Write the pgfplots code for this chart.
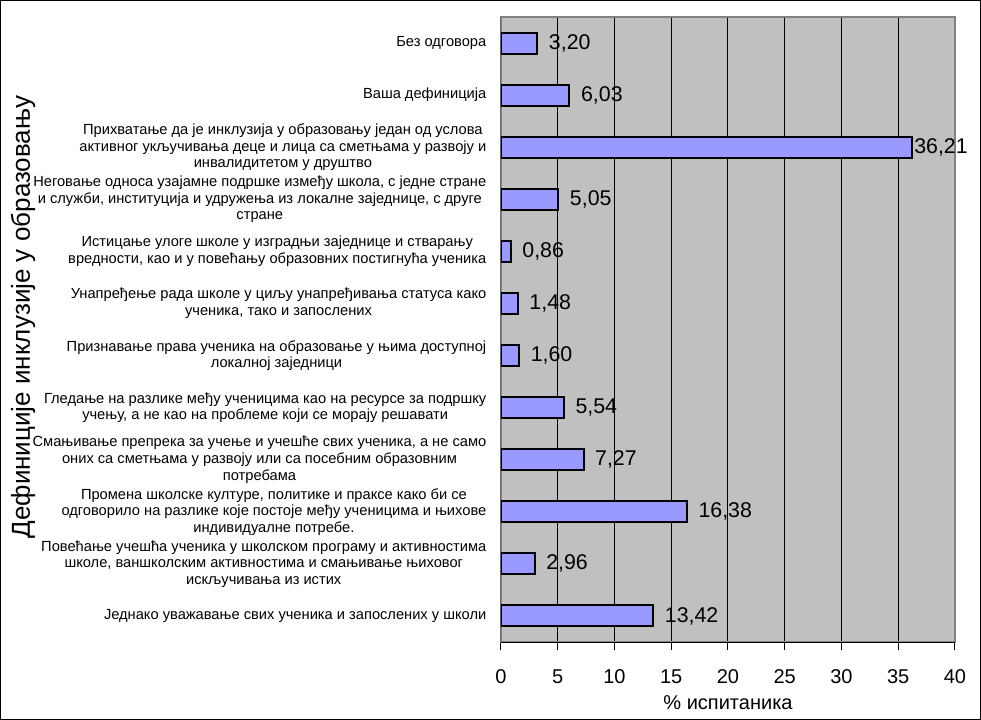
\documentclass[border=0pt]{standalone}
\usepackage{pgfplots}
\pgfplotsset{compat=1.18}
\usepackage{fontspec}
\setmainfont{Liberation Sans}
\definecolor{barfill}{HTML}{9999FF}
\definecolor{plotbg}{HTML}{C0C0C0}
\definecolor{plotedge}{HTML}{808080}
\begin{document}
\begin{tikzpicture}
% whole picture: 981x720 px, 1 px = 0.75 pt, plot area 454x625 px
\path[use as bounding box] (-375.75pt,-58.5pt) rectangle (360pt,481.5pt);
\draw[black, line width=1.1pt] (-375.2pt,-57.95pt) rectangle (359.45pt,480.95pt);
\begin{axis}[
    scale only axis,
    width=340.5pt,
    height=468.75pt,
    xbar,
    bar width=15.75pt,
    xmin=0, xmax=40,
    ymin=0.5, ymax=12.5,
    enlargelimits=false,
    y dir=reverse,
    xtick={0,5,...,40},
    ytick={1,...,12},
    yticklabels={
        {Без одговора},
        {Ваша дефиниција},
        {Прихватање да је инклузија у образовању један од услова\\активног укључивања деце и лица са сметњама у развоју и\\инвалидитетом у друштво},
        {Неговање односа узајамне подршке између школа, с једне стране\\и служби, институција и удружења из локалне заједнице, с друге\\стране},
        {Истицање улоге школе у изградњи заједнице и стварању\\вредности, као и у повећању образовних постигнућа ученика},
        {Унапређење рада школе у циљу унапређивања статуса како\\ученика, тако и запослених},
        {Признавање права ученика на образовање у њима доступној\\локалној заједници},
        {Гледање на разлике међу ученицима као на ресурсе за подршку\\учењу, а не као на проблеме који се морају решавати},
        {Смањивање препрека за учење и учешће свих ученика, а не само\\оних са сметњама у развоју или са посебним образовним\\потребама},
        {Промена школске културе, политике и праксе како би се\\одговорило на разлике које постоје међу ученицима и њихове\\индивидуалне потребе.},
        {Повећање учешћа ученика у школском програму и активностима\\школе, ваншколским активностима и смањивање њиховог\\искључивања из истих},
        {Једнако уважавање свих ученика и запослених у школи}
    },
    yticklabel style={align=center, font=\fontsize{11}{12.4}\selectfont, xshift=-1.5pt},
    ytick style={draw=none},
    xticklabel style={font=\fontsize{15}{18}\selectfont, yshift=-11pt},
    /pgf/number format/assume math mode=true,
    tick align=outside,
    xtick pos=left,
    major tick length=6pt,
    xtick style={black, line width=0.75pt},
    xmajorgrids=true,
    grid style={black, line width=0.75pt},
    axis background/.style={fill=plotbg},
    axis line style={plotedge, line width=1.5pt},
    xlabel={\% испитаника},
    xlabel style={at={(axis description cs:0.5,0)}, anchor=center, yshift=-45.75pt, font=\fontsize{15}{18}\selectfont},
    ylabel={Дефиниције инклузије у образовању},
    ylabel style={at={(axis description cs:0,0.52)}, anchor=center, yshift=358.5pt, font=\fontsize{19.5}{22}\selectfont},
    point meta=x,
    visualization depends on={x \as \rawx},
    nodes near coords={\pgfmathprintnumber[fixed, fixed zerofill, precision=2, use comma, assume math mode=true]{\pgfplotspointmeta}},
    nodes near coords style={anchor=west, black, font=\fontsize{16}{19}\selectfont, inner sep=0pt, xshift={ifthenelse(\rawx>30,1,8)*1pt}},
]
\addplot[draw=black, line width=1.5pt, fill=barfill] coordinates {
    (3.20,1) (6.03,2) (36.21,3) (5.05,4) (0.86,5) (1.48,6)
    (1.60,7) (5.54,8) (7.27,9) (16.38,10) (2.96,11) (13.42,12)
};
\draw[black, line width=0.75pt] (axis description cs:0,1) -- (axis description cs:0,0) -- (axis description cs:1,0);
\end{axis}
\end{tikzpicture}
\end{document}
